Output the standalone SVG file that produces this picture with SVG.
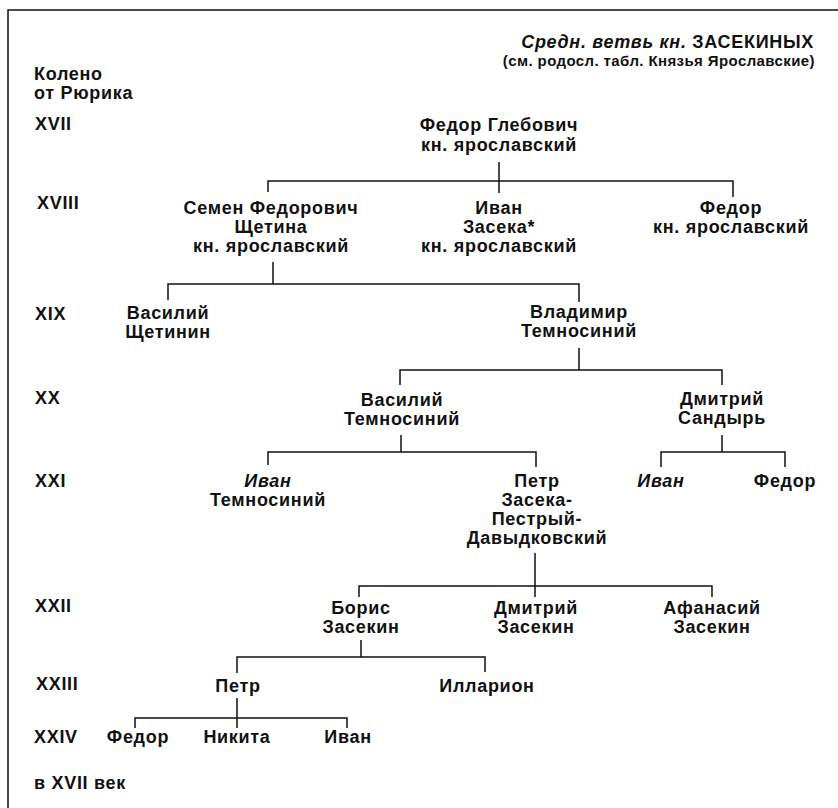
<svg xmlns="http://www.w3.org/2000/svg" width="838" height="808" viewBox="0 0 838 808">
<style>
text{font-family:"Liberation Sans",Arial,sans-serif;font-size:18px;font-weight:bold;letter-spacing:0.7px;fill:#111}
.n text,.n{text-anchor:middle}
.it{font-style:italic}
.sub{font-size:15px;letter-spacing:0.4px}
.c path,.frame{fill:none;stroke:#111;stroke-width:1.5}
</style>
<rect width="838" height="808" fill="#fff"/>
<path class="frame" d="M8 808V10H838"/>
<g id="title" text-anchor="end">
<text x="814" y="48"><tspan class="it">Средн. ветвь кн.</tspan> ЗАСЕКИНЫХ</text>
<text class="sub" x="815" y="66">(см. родосл. табл. Князья Ярославские)</text>
</g>
<g id="generations">
<text x="34" y="80">Колено</text>
<text x="34" y="99">от Рюрика</text>
<text x="35" y="130">XVII</text>
<text x="37" y="209">XVIII</text>
<text x="35" y="320">XIX</text>
<text x="35" y="404">XX</text>
<text x="35" y="487">XXI</text>
<text x="35" y="612">XXII</text>
<text x="36" y="690">XXIII</text>
<text x="34" y="743">XXIV</text>
<text x="34" y="789">в XVII век</text>
</g>
<g id="connectors" class="c">
<path d="M499 162V193M268 192V181H733V197"/>
<path d="M273 262V284M168 300V284H579V302"/>
<path d="M579 348V370M400 385V370H722V385"/>
<path d="M401 435V452M268 465V452H536V467"/>
<path d="M722 435V452M661 467V452H785V467"/>
<path d="M535 553V597M359 597V586H712V597"/>
<path d="M361 640V657M237 673V657H485V672"/>
<path d="M237 698V728M135 728V718H347V728"/>
</g>
<g id="fedor-glebovich" class="n"><text x="499" y="131">Федор Глебович</text><text x="499" y="151">кн. ярославский</text></g>
<g id="semen" class="n"><text x="271" y="214">Семен Федорович</text><text x="271" y="233">Щетина</text><text x="271" y="252">кн. ярославский</text></g>
<g id="ivan-zaseka" class="n"><text x="499" y="214">Иван</text><text x="499" y="233">Засека*</text><text x="499" y="252">кн. ярославский</text></g>
<g id="fedor-yar" class="n"><text x="731" y="214">Федор</text><text x="731" y="233">кн. ярославский</text></g>
<g id="vasily-shchetinin" class="n"><text x="168" y="319">Василий</text><text x="168" y="338">Щетинин</text></g>
<g id="vladimir" class="n"><text x="579" y="318">Владимир</text><text x="579" y="337">Темносиний</text></g>
<g id="vasily-temnosiny" class="n"><text x="402" y="406">Василий</text><text x="402" y="425">Темносиний</text></g>
<g id="dmitry-sandyr" class="n"><text x="722" y="405">Дмитрий</text><text x="722" y="424">Сандырь</text></g>
<g id="ivan-temnosiny" class="n"><text class="it" x="268" y="487">Иван</text><text x="268" y="506">Темносиний</text></g>
<g id="petr-zaseka" class="n"><text x="537" y="487">Петр</text><text x="537" y="506">Засека-</text><text x="537" y="525">Пестрый-</text><text x="537" y="544">Давыдковский</text></g>
<g id="ivan-d" class="n"><text class="it" x="661" y="487">Иван</text></g>
<g id="fedor-d" class="n"><text x="785" y="487">Федор</text></g>
<g id="boris" class="n"><text x="361" y="614">Борис</text><text x="361" y="633">Засекин</text></g>
<g id="dmitry-zasekin" class="n"><text x="536" y="614">Дмитрий</text><text x="536" y="633">Засекин</text></g>
<g id="afanasy" class="n"><text x="712" y="614">Афанасий</text><text x="712" y="633">Засекин</text></g>
<g id="petr" class="n"><text x="238" y="692">Петр</text></g>
<g id="illarion" class="n"><text x="487" y="692">Илларион</text></g>
<g id="fedor-p" class="n"><text x="138" y="743">Федор</text></g>
<g id="nikita" class="n"><text x="237" y="743">Никита</text></g>
<g id="ivan-p" class="n"><text x="348" y="743">Иван</text></g>
</svg>
